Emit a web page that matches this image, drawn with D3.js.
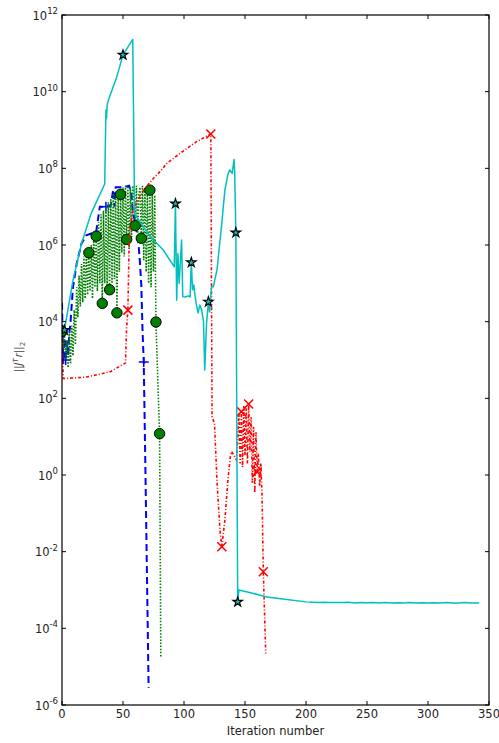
<!DOCTYPE html>
<html><head><meta charset="utf-8">
<script src="https://cdn.jsdelivr.net/npm/d3@7"></script>
<style>body{margin:0;background:#fff}svg{display:block}</style>
</head><body>
<svg id="chart" width="499" height="743"></svg>
<script>
// ---------- data ----------
const xTicks = [0, 50, 100, 150, 200, 250, 300, 350];
const yTickExps = [-6, -4, -2, 0, 2, 4, 6, 8, 10, 12];
const xLabel = "Iteration number";

// blue dashed, "+" markers
const blueIter = [0,1,2,3,4,5,6,7,9,12,16,20,24,28,30,31,36,40,42,43,44,48,52,55,57,58,62,63.5,65,66,67,68.5,71];
const blueVal  = [3.1e4,7.9e2,5.0e3,1.0e3,3.2e3,1.3e3,5.0e3,1.0e4,7.9e4,3.2e5,1.1e6,1.8e6,2.0e6,2.2e6,6.0e6,1.0e7,1.0e7,1.1e7,2.8e7,1.0e7,3.2e7,3.2e7,3.3e7,3.5e7,2.0e7,7.8e6,1.7e6,5.5e5,9.1e4,6.0e3,8.9e2,7.4e-1,2.8e-6];
const blueMarkIter = [3, 36, 67];

// green dotted, circle markers (one value per iteration 0..81)
const greenVal = [5.6e3,2.0e3,4.0e3,1.0e3,3.2e3,6.3e2,5.0e3,7.9e2,7.9e3,1.3e3,
  2.0e4,2.5e3,7.9e4,1.3e4,1.6e5,2.5e4,3.2e5,3.2e4,5.0e5,4.0e4,
  7.9e5,5.0e4,6.3e5,6.3e4,1.0e6,4.0e4,1.6e6,7.9e4,1.7e6,6.3e4,
  4.0e6,1.0e5,6.3e6,3.0e4,7.9e6,1.0e5,1.0e7,6.3e4,1.3e7,6.8e4,
  1.6e7,1.0e5,2.2e7,1.3e5,2.5e7,1.7e4,2.8e7,2.0e5,2.1e7,6.3e5,
  3.2e7,5.0e5,3.5e7,1.4e6,3.5e7,7.9e5,3.2e7,1.6e6,3.5e7,2.0e7,
  3.2e6,3.5e7,2.0e6,2.0e7,3.2e7,1.5e6,3.5e7,4.0e5,3.2e7,2.0e5,
  2.8e7,1.0e5,2.7e7,7.9e4,2.5e7,2.0e5,2.0e7,9.8e3,1.0e3,1.0e2,
  1.2e1,1.7e-5];
const greenMarkIter = [0, 22, 28, 33, 39, 45, 48, 53, 60, 65, 72, 77, 80];

// red dash-dot, "x" markers
const redIter = [0,1,10,20,30,40,49,52,53,54,55,56,58,61,68,75,79,86,97,110,122,123,125,127,129.5,131,133.5,136,138,139,141,143,
  144,145,146,147,148,149,150,151,152,153,154,155,156,157,158,159,160,161,162,163,164,165,167];
const redVal  = [6.3e3,3.3e2,3.4e2,3.6e2,4.2e2,5.0e2,7.4e2,8.3e2,7.4e3,2.0e4,1.0e6,3.2e6,7.1e6,1.3e7,3.0e7,5.5e7,7.4e7,1.35e8,2.5e8,4.9e8,7.9e8,3.3e1,2.2e1,7.4e-1,3.6e-2,1.35e-2,6.6e-2,7.4e-1,3.0,4.1,3.2,2.5,
  7.9,4.0e1,2.0,4.5e1,1.6,6.3e1,3.2,5.6e1,2.0,7.1e1,4.0,3.2e1,6.3e-1,1.8e1,3.4e-1,1.3e1,1.2,3.6,5.0e-1,2.0,2.7e-1,3.0e-3,2.2e-5];
const redMarkIter = [54, 122, 131, 147, 153, 160, 165];

// cyan solid, star markers
const cyanIter = [0,2,9,16,24,35,36,36.5,37,38,45,50,58,59.5,61,72,83,92,93,94,95,96,98,99,101,103.5,105,106,107,108,109,110,111.5,113,114.5,116,117,118.5,120,121,122.5,124,127,131,133.5,136,137.5,139.5,141,141.5,142.5,144,145,157,168,181,200,
  205,210,215,220,225,230,235,240,245,250,255,260,265,270,275,280,285,290,295,300,305,310,315,320,325,330,335,342];
const cyanVal  = [4.5e3,6.0e3,1.2e5,1.1e6,6.8e6,3.9e7,3.3e9,2.0e9,4.5e9,6.0e9,2.5e10,9.1e10,2.3e11,6.8e6,5.5e6,1.7e6,7.4e5,2.7e5,1.2e7,3.6e4,6.0e5,1.0e5,1.35e6,4.5e4,4.4e4,4.7e4,4.4e4,3.5e5,6.8e4,9.1e4,4.9e4,3.0e4,1.7e4,2.7e4,2.0e4,1.0e4,5.5e2,9.1e3,3.3e4,1.8e4,8.1e4,8.1e4,2.2e5,3.7e6,2.7e7,7.0e7,9.1e7,7.4e7,1.7e8,9.1e7,2.1e6,4.9e-4,1.0e-3,8.1e-4,6.6e-4,5.8e-4,4.9e-4,
  4.8e-4,4.7e-4,4.8e-4,4.7e-4,4.75e-4,4.7e-4,4.8e-4,4.6e-4,4.7e-4,4.65e-4,4.7e-4,4.6e-4,4.7e-4,4.6e-4,4.65e-4,4.55e-4,4.7e-4,4.6e-4,4.65e-4,4.55e-4,4.65e-4,4.6e-4,4.7e-4,4.55e-4,4.6e-4,4.7e-4,4.55e-4,4.6e-4];
const cyanMarkIter = [2, 50, 93, 106, 120, 142.5, 144];

// ---------- drawing ----------
const svg = d3.select("#chart");
const L = 62, R = 489, T = 15, B = 705;
const x = d3.scaleLinear().domain([0, 350]).range([L, R]);
const y = d3.scaleLog().domain([1e-6, 1e12]).range([B, T]);
const FONT = "'DejaVu Sans', sans-serif";

svg.append("rect").attr("width", 499).attr("height", 743).attr("fill", "#fff");
svg.append("defs").append("clipPath").attr("id", "clip")
  .append("rect").attr("x", L).attr("y", T).attr("width", R - L).attr("height", B - T);

const plot = svg.append("g").attr("clip-path", "url(#clip)");
const line = d3.line().x(d => x(d[0])).y(d => y(d[1]));
const zip = (a, b) => a.map((v, i) => [v, b[i]]);
const pick = (pts, its) => its.map(it => pts.find(p => p[0] === it)).filter(Boolean);

const bluePts = zip(blueIter, blueVal);
const greenPts = greenVal.map((v, i) => [i, v]);
const redPts = zip(redIter, redVal);
const cyanPts = zip(cyanIter, cyanVal);

// blue
plot.append("path").datum(bluePts).attr("d", line).attr("fill", "none")
  .attr("stroke", "#0000ff").attr("stroke-width", 2).attr("stroke-dasharray", "7,4");
plot.selectAll(".bplus").data(pick(bluePts, blueMarkIter)).join("path")
  .attr("transform", d => `translate(${x(d[0])},${y(d[1])})`)
  .attr("d", "M-5,0H5M0,-5V5").attr("stroke", "#0000ff").attr("stroke-width", 1.5).attr("fill", "none");

// green
plot.append("path").datum(greenPts).attr("d", line).attr("fill", "none")
  .attr("stroke", "#008000").attr("stroke-width", 1.6).attr("stroke-dasharray", "1.5,1.6");
plot.selectAll(".gc").data(pick(greenPts, greenMarkIter)).join("circle")
  .attr("cx", d => x(d[0])).attr("cy", d => y(d[1])).attr("r", 5.2)
  .attr("fill", "#008000").attr("stroke", "#000").attr("stroke-width", 1);

// red
plot.append("path").datum(redPts).attr("d", line).attr("fill", "none")
  .attr("stroke", "#ff0000").attr("stroke-width", 1.6).attr("stroke-dasharray", "3,2,1,2");
plot.selectAll(".rx").data(pick(redPts, redMarkIter)).join("path")
  .attr("transform", d => `translate(${x(d[0])},${y(d[1])})`)
  .attr("d", "M-4.5,-4.5L4.5,4.5M-4.5,4.5L4.5,-4.5").attr("stroke", "#ff0000").attr("stroke-width", 1.5).attr("fill", "none");

// cyan
plot.append("path").datum(cyanPts).attr("d", line).attr("fill", "none")
  .attr("stroke", "#00bfbf").attr("stroke-width", 1.5).attr("stroke-linejoin", "round");
plot.selectAll(".cs").data(pick(cyanPts, cyanMarkIter)).join("path")
  .attr("transform", d => `translate(${x(d[0])},${y(d[1])})`)
  .attr("d", d3.symbol(d3.symbolStar, 28)).attr("fill", "#00bfbf").attr("stroke", "#000").attr("stroke-width", 1.2);

// frame
svg.append("rect").attr("x", L).attr("y", T).attr("width", R - L).attr("height", B - T)
  .attr("fill", "none").attr("stroke", "#000").attr("stroke-width", 1.2);

// ticks (inward, all four sides)
const tk = svg.append("g").attr("stroke", "#000").attr("stroke-width", 1);
xTicks.forEach(t => {
  tk.append("line").attr("x1", x(t)).attr("x2", x(t)).attr("y1", B).attr("y2", B - 4);
  tk.append("line").attr("x1", x(t)).attr("x2", x(t)).attr("y1", T).attr("y2", T + 4);
});
yTickExps.forEach(e => {
  const yy = y(Math.pow(10, e));
  tk.append("line").attr("x1", L).attr("x2", L + 4).attr("y1", yy).attr("y2", yy);
  tk.append("line").attr("x1", R).attr("x2", R - 4).attr("y1", yy).attr("y2", yy);
});

// x tick labels
svg.append("g").selectAll("text").data(xTicks).join("text")
  .attr("x", d => x(d)).attr("y", 718).attr("text-anchor", "middle")
  .attr("font-family", FONT).attr("font-size", 11.5).attr("fill", "#222").text(d => d);

// y tick labels: 10^e
const yl = svg.append("g").attr("font-family", FONT).attr("fill", "#222");
yTickExps.forEach(e => {
  const yy = y(Math.pow(10, e));
  const t = yl.append("text").attr("x", 58).attr("y", yy + 4.5).attr("text-anchor", "end").attr("font-size", 11.5);
  t.append("tspan").text("10");
  t.append("tspan").attr("dy", -5.5).attr("font-size", 8.5).text(String(e));
});

// axis labels
svg.append("text").attr("x", (L + R) / 2).attr("y", 735).attr("text-anchor", "middle")
  .attr("font-family", FONT).attr("font-size", 11.5).attr("fill", "#222").text(xLabel);

const ylab = svg.append("text").attr("transform", "translate(22,357) rotate(-90)")
  .attr("text-anchor", "middle").attr("font-family", FONT).attr("font-size", 10).attr("fill", "#444");
ylab.append("tspan").text("||");
ylab.append("tspan").attr("font-style", "italic").text("J");
ylab.append("tspan").attr("font-style", "italic").attr("font-size", 7).attr("dy", -4).text("T");
ylab.append("tspan").attr("font-style", "italic").attr("dy", 4).attr("dx", 1).text("r");
ylab.append("tspan").text("||");
ylab.append("tspan").attr("font-size", 7).attr("dy", 2.5).text("2");
</script>
</body></html>
